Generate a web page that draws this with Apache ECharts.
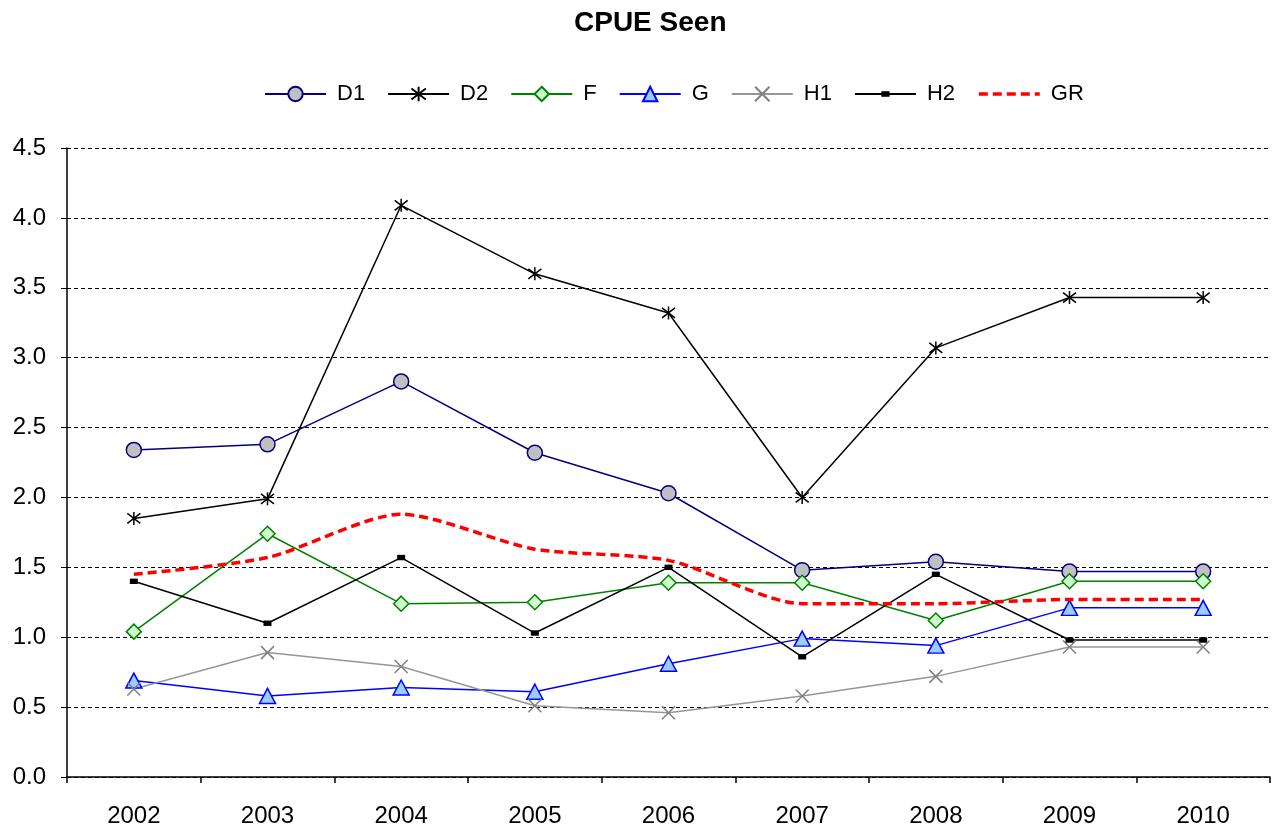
<!DOCTYPE html>
<html><head><meta charset="utf-8">
<script src="https://cdn.jsdelivr.net/npm/echarts@6/dist/echarts.min.js"></script>
<style>html,body{margin:0;padding:0;background:#fff}#c{width:1274px;height:829px}</style>
</head><body><div id="c"></div>
<script>
var years = ['2002','2003','2004','2005','2006','2007','2008','2009','2010'];
var yTicks = [0,0.5,1,1.5,2,2.5,3,3.5,4,4.5];
var D1 = [2.34, 2.38, 2.83, 2.32, 2.03, 1.48, 1.54, 1.47, 1.47];
var D2 = [1.85, 1.99, 4.09, 3.60, 3.32, 2.00, 3.07, 3.43, 3.43];
var F  = [1.04, 1.74, 1.24, 1.25, 1.39, 1.39, 1.12, 1.40, 1.40];
var G  = [0.69, 0.58, 0.64, 0.61, 0.81, 0.99, 0.94, 1.21, 1.21];
var H1 = [0.63, 0.89, 0.79, 0.51, 0.46, 0.58, 0.72, 0.93, 0.93];
var H2 = [1.40, 1.10, 1.57, 1.03, 1.50, 0.86, 1.45, 0.98, 0.98];
var GR = [1.45, 1.57, 1.88, 1.63, 1.55, 1.24, 1.24, 1.27, 1.27];

var font = 'Liberation Sans, Arial, sans-serif';
var chart = echarts.init(document.getElementById('c'), null, {renderer:'canvas'});
var star = 'path://M0,0L10,10M10,0L0,10M5,-1.5L5,11.5';
var xmark = 'path://M0,0L10,10M10,0L0,10';
var smallRect = 'path://M0,0M14,14M3,4.3L11,4.3L11,9.7L3,9.7Z';
function ser(name, data, color, symbol, size, fill, extra) {
  var s = {
    name: name, type: 'line', data: data, symbol: symbol, symbolSize: size,
    showAllSymbol: true, z: 3,
    lineStyle: {color: color, width: 1.5},
    itemStyle: {color: fill, borderColor: color, borderWidth: 1.5},
    emphasis: {disabled: true}
  };
  if (extra) for (var k in extra) s[k] = extra[k];
  return s;
}
var series = [
  ser('D1', D1, '#000080', 'circle', 15, '#C0C0C0'),
  ser('D2', D2, '#000000', star, 13, 'rgba(0,0,0,0)'),
  ser('F', F, '#008000', 'diamond', [15,15], '#CCFFCC'),
  ser('G', G, '#0000FF', 'triangle', [16,15], '#99CCFF'),
  ser('H1', H1, '#969696', xmark, 13, 'rgba(0,0,0,0)', {itemStyle:{color:'rgba(0,0,0,0)', borderColor:'#808080', borderWidth:1.5}}),
  ser('H2', H2, '#000000', smallRect, 14, '#000000', {itemStyle:{color:'#000', borderWidth:0}}),
  {name:'GR', type:'line', data: GR, symbol:'none', smooth: 0.25, z: 4,
   lineStyle:{color:'#FF0000', width:3.5, type:[9,5]}, itemStyle:{color:'#FF0000'}, emphasis:{disabled:true}}
];
chart.setOption({
  animation: false,
  backgroundColor: '#fff',
  title: {text: 'CPUE Seen', left: 569, top: 4,
    textStyle: {fontFamily: font, fontSize: 28, fontWeight: 'bold', color: '#000'}},
  legend: {top: 78, left: 259, itemWidth: 61, itemHeight: 18, itemGap: 22,
    textStyle: {fontFamily: font, fontSize: 22, color: '#000', padding: [6, 0, 0, 6]},
    data: ['D1','D2','F','G','H1','H2',
      {name:'GR', itemStyle:{opacity:0}, lineStyle:{width:3.5, type:[9,5], color:'#FF0000'}}]},
  grid: {left: 67, right: 4, top: 148, bottom: 52, containLabel: false},
  xAxis: {type: 'category', data: years, boundaryGap: true,
    axisLine: {lineStyle: {color: '#000', width: 1.5}},
    axisTick: {show: true, length: 6, lineStyle: {color: '#000', width: 1.5}, alignWithLabel: false},
    axisLabel: {fontFamily: font, fontSize: 24, color: '#000', margin: 27},
    splitLine: {show: false}},
  yAxis: {type: 'value', min: 0, max: 4.5, interval: 0.5,
    axisLine: {show: true, lineStyle: {color: '#000', width: 1.5}},
    axisTick: {show: true, length: 6, lineStyle: {color: '#000', width: 1}},
    axisLabel: {fontFamily: font, fontSize: 24, color: '#000', margin: 21,
      formatter: function(v){ return v.toFixed(1); }},
    splitLine: {show: true, lineStyle: {color: '#000', width: 1, type: [4,3]}}},
  series: series
});
</script></body></html>
